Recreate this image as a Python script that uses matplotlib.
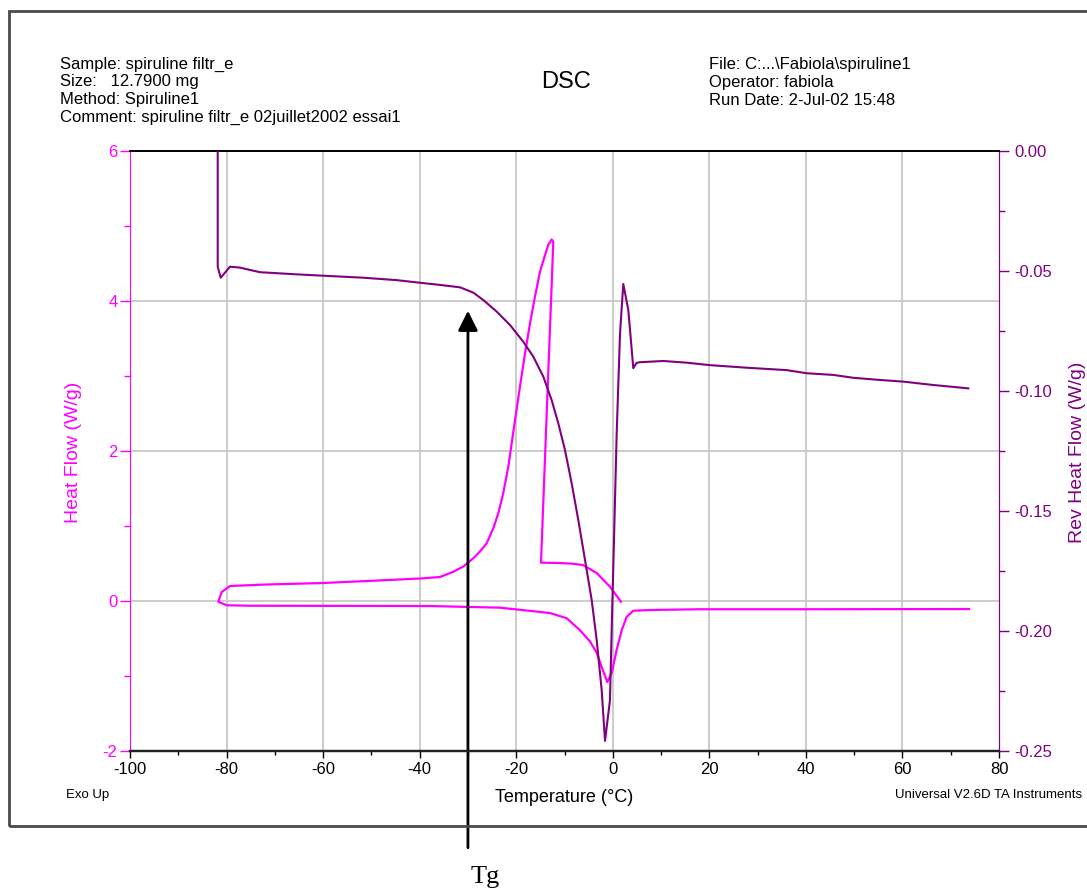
import matplotlib
matplotlib.use("Agg")
import matplotlib.pyplot as plt
from matplotlib.patches import Rectangle
from matplotlib.ticker import MultipleLocator, FixedLocator

# ---------------- data ----------------
# Heat flow (W/g): cooling from +2 °C (crystallisation exotherm), down to -82 °C, then heating
hf_temp = [1.70, -0.58, -3.27, -6.17, -8.86, -11.56, -14.87, -12.32, -12.66, -13.35,
           -14.04, -15.08, -16.11, -17.15, -18.18, -19.22, -20.25, -20.95, -21.64, -22.68,
           -23.71, -24.75, -26.12, -27.50, -28.89, -30.96, -33.03, -35.79, -39.93, -49.67,
           -60.02, -71.70, -79.29, -81.00, -81.71, -79.97, -75.14, -60.00, -37.86, -23.36,
           -13.00, -9.55, -6.79, -4.72, -3.33, -2.30, -1.13, -0.23, 0.81, 1.85,
           2.88, 4.25, 7.71, 18.07, 40.00, 73.80]
hf_value = [-0.01, 0.19, 0.37, 0.48, 0.50, 0.507, 0.511, 4.79, 4.82, 4.75,
            4.61, 4.39, 4.06, 3.70, 3.30, 2.86, 2.41, 2.10, 1.79, 1.44,
            1.17, 0.97, 0.77, 0.66, 0.57, 0.46, 0.39, 0.32, 0.30, 0.27,
            0.24, 0.22, 0.20, 0.12, -0.01, -0.057, -0.063, -0.065, -0.067, -0.089,
            -0.16, -0.23, -0.39, -0.54, -0.69, -0.88, -1.08, -0.96, -0.65, -0.39,
            -0.21, -0.13, -0.12, -0.11, -0.11, -0.107]

# Reversing heat flow (W/g)
rhf_temp = [-81.83, -81.83, -81.21, -79.29, -77.22, -73.07, -65.47, -58.57, -51.68, -44.76,
            -39.93, -35.79, -31.65, -28.89, -26.82, -24.05, -21.29, -18.53, -16.46, -14.39,
            -12.66, -11.28, -9.90, -8.51, -7.14, -5.75, -4.37, -3.33, -2.30, -1.61,
            -0.58, -0.16, 0.11, 0.81, 1.50, 2.18, 3.22, 4.25, 4.91, 5.64,
            10.46, 15.31, 19.99, 27.74, 36.02, 40.17, 45.68, 49.82, 55.35, 60.18,
            66.39, 73.64]
rhf_value = [0.02, -0.0482, -0.0528, -0.0482, -0.0486, -0.0505, -0.0514, -0.0521, -0.0528, -0.0538,
             -0.0549, -0.0558, -0.0568, -0.0590, -0.0621, -0.0669, -0.0725, -0.0795, -0.0857, -0.0940,
             -0.1038, -0.1135, -0.1246, -0.1385, -0.1538, -0.1704, -0.1871, -0.2038, -0.2246, -0.2458,
             -0.2288, -0.1940, -0.1732, -0.1176, -0.0760, -0.0554, -0.0663, -0.0905, -0.0883, -0.0880,
             -0.0875, -0.0882, -0.0892, -0.0903, -0.0913, -0.0926, -0.0933, -0.0945, -0.0954, -0.0961,
             -0.0975, -0.0989]

x_ticks = [-100, -80, -60, -40, -20, 0, 20, 40, 60, 80]
hf_ticks = [-2, 0, 2, 4, 6]
rhf_ticks = [-0.25, -0.20, -0.15, -0.10, -0.05, 0.00]

header_left = ["Sample: spiruline filtr_e", "Size:   12.7900 mg", "Method: Spiruline1",
               "Comment: spiruline filtr_e 02juillet2002 essai1"]
header_right = ["File: C:...\\Fabiola\\spiruline1", "Operator: fabiola", "Run Date: 2-Jul-02 15:48"]

MAG = "#FF00FF"
PUR = "#800080"
W, H = 1087, 892

plt.rcParams['font.family'] = ['Liberation Sans', 'DejaVu Sans']
plt.rcParams['axes.unicode_minus'] = False

fig = plt.figure(figsize=(W / 100, H / 100), dpi=100)
fig.patch.set_facecolor("white")

def fx(px):
    return px / W

def fy(py):
    return 1 - py / H

ax = fig.add_axes([fx(130), fy(751), fx(999) - fx(130), fy(151) - fy(751)])
ax2 = ax.twinx()

ax.set_xlim(-100, 80)
ax.set_ylim(-2, 6)
ax2.set_ylim(-0.25, 0.0)

# grid
for t in x_ticks[1:-1]:
    ax.axvline(t, color="#C8C8C8", lw=1.3, zorder=0)
for t in [0, 2, 4]:
    ax.axhline(t, color="#C8C8C8", lw=1.3, zorder=0)

ax.plot(hf_temp, hf_value, color=MAG, lw=1.6, zorder=3)
ax2.plot(rhf_temp, rhf_value, color=PUR, lw=1.5, zorder=3)

# ticks
ax.xaxis.set_major_locator(FixedLocator(x_ticks))
ax.xaxis.set_minor_locator(MultipleLocator(10))
ax.yaxis.set_major_locator(FixedLocator(hf_ticks))
ax.yaxis.set_minor_locator(MultipleLocator(1))
ax2.yaxis.set_major_locator(FixedLocator(rhf_ticks))
ax2.yaxis.set_minor_locator(MultipleLocator(0.025))
ax2.set_yticklabels(["%.2f" % v for v in rhf_ticks])

ax.tick_params(axis="x", which="major", direction="out", length=5, width=1, labelsize=12, pad=3, color="black")
ax.tick_params(axis="x", which="minor", direction="out", length=3, width=1, color="black")
ax.tick_params(axis="y", which="major", direction="out", length=7, width=1, labelsize=12, pad=2,
               color=MAG, labelcolor=MAG)
ax.tick_params(axis="y", which="minor", direction="out", length=4, width=1, color=MAG)
ax2.tick_params(axis="y", which="major", direction="out", length=7, width=1, labelsize=12, pad=4,
                color=PUR, labelcolor=PUR)
ax2.tick_params(axis="y", which="minor", direction="out", length=4, width=1, color=PUR)

for a in (ax, ax2):
    a.spines["left"].set_color(MAG)
    a.spines["right"].set_color(PUR)
    a.spines["top"].set_color("black")
    a.spines["bottom"].set_color("#222222")
    a.spines["bottom"].set_linewidth(1.6)
    a.spines["top"].set_linewidth(1.2)

ax2.spines["left"].set_visible(False)

# axis labels
fig.text(fx(73), fy(452), "Heat Flow (W/g)", color=MAG, fontsize=14, rotation=90,
         ha="center", va="center")
fig.text(fx(1078), fy(452), "Rev Heat Flow (W/g)", color=PUR, fontsize=14, rotation=90,
         ha="center", va="center")
fig.text(fx(564), fy(798), "Temperature (°C)", color="black", fontsize=13, ha="center", va="center")
fig.text(fx(66), fy(795), "Exo Up", color="black", fontsize=9.5, ha="left", va="center")
fig.text(fx(895), fy(795), "Universal V2.6D TA Instruments", color="black", fontsize=9.5,
         ha="left", va="center")

# header
for i, line in enumerate(header_left):
    fig.text(fx(60), fy(64 + 17.7 * i), line, fontsize=12, ha="left", va="center")
for i, line in enumerate(header_right):
    fig.text(fx(709), fy(64 + 18.2 * i), line, fontsize=12, ha="left", va="center")
fig.text(fx(566), fy(82), "DSC", fontsize=17, ha="center", va="center")

# outer frame
fig.patches.append(Rectangle((fx(9), fy(826)), fx(1200) - fx(9), fy(11) - fy(826),
                             transform=fig.transFigure, fill=False, edgecolor="#4a4a4a", lw=2))

# Tg arrow
ax.annotate("", xy=(-30, 3.87), xytext=(-30, -3.29),
            arrowprops=dict(arrowstyle="-|>,head_length=0.8,head_width=0.4", lw=2, color="black",
                            mutation_scale=15, shrinkA=0, shrinkB=0),
            annotation_clip=False, zorder=5)
fig.text(fx(485), fy(877), "Tg", fontsize=19, family=["Liberation Serif", "DejaVu Serif"],
         ha="center", va="center")

fig.savefig("out.png", dpi=100)
